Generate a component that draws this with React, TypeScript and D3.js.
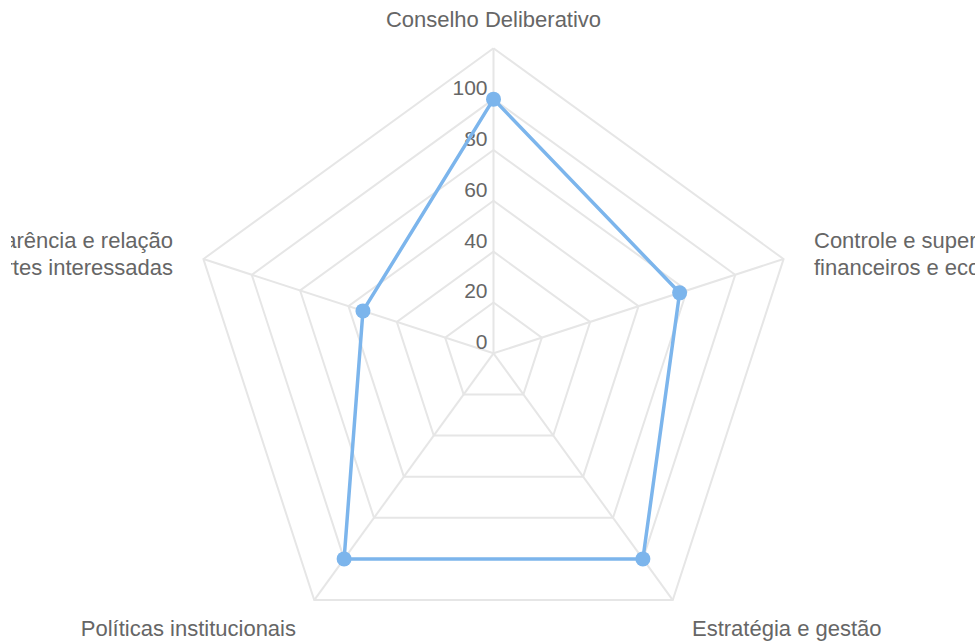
import React, { useEffect, useRef } from 'react';
import * as d3 from 'd3';

const categories = [
  ['Conselho Deliberativo'],
  ['Controle e supervisão dos resultados', 'financeiros e econômicos'],
  ['Estratégia e gestão'],
  ['Políticas institucionais'],
  ['Transparência e relação', 'com partes interessadas'],
];
const values = [100, 77, 100, 100, 54];
const ticks = [0, 20, 40, 60, 80, 100, 120];

const App: React.FC = () => {
  const ref = useRef<SVGSVGElement>(null);

  useEffect(() => {
    if (!ref.current) return;
    const svg = d3.select(ref.current);
    svg.selectAll('*').remove();

    const width = 980;
    const height = 644;
    const cx = 493.5;
    const cy = 353.3;
    const radius = 305;
    const n = categories.length;

    const r = d3.scaleLinear().domain([0, 120]).range([0, radius]);
    const angle = (i: number) => (i * 2 * Math.PI) / n;
    const pt = (i: number, v: number): [number, number] => [
      cx + r(v) * Math.sin(angle(i)),
      cy - r(v) * Math.cos(angle(i)),
    ];

    svg.attr('width', width).attr('height', height);
    const font = '"Liberation Sans", Arial, sans-serif';

    // clip labels like the original container does
    svg.append('defs').append('clipPath').attr('id', 'chart-clip')
      .append('rect').attr('x', 11).attr('y', 0).attr('width', 964).attr('height', height);
    const root = svg.append('g').attr('clip-path', 'url(#chart-clip)');

    // grid rings
    const grid = root.append('g');
    ticks.slice(1).forEach(t => {
      const pts = d3.range(n).map(i => pt(i, t));
      grid.append('path')
        .attr('d', d3.line()(pts.concat([pts[0]])))
        .attr('fill', 'none')
        .attr('stroke', '#e6e6e6')
        .attr('stroke-width', 2);
    });
    // spokes
    d3.range(n).forEach(i => {
      const [x, y] = pt(i, 120);
      grid.append('line')
        .attr('x1', cx).attr('y1', cy)
        .attr('x2', x).attr('y2', y)
        .attr('stroke', '#e6e6e6')
        .attr('stroke-width', 2);
    });

    // tick labels
    ticks.slice(0, -1).forEach(t => {
      root.append('text')
        .attr('x', cx - 6)
        .attr('y', cy - r(t) - 4)
        .attr('text-anchor', 'end')
        .attr('font-family', font)
        .attr('font-size', '21px')
        .attr('fill', '#666666')
        .text(t);
    });

    // category labels
    const labelPos: { x: number; y: number; anchor: string }[] = [
      { x: cx, y: 27, anchor: 'middle' },
      { x: 814, y: 248, anchor: 'start' },
      { x: 692, y: 636, anchor: 'start' },
      { x: 296, y: 636, anchor: 'end' },
      { x: 173, y: 248, anchor: 'end' },
    ];
    categories.forEach((lines, i) => {
      const p = labelPos[i];
      const t = root.append('text')
        .attr('x', p.x)
        .attr('y', p.y)
        .attr('text-anchor', p.anchor)
        .attr('font-family', font)
        .attr('font-size', '22px')
        .attr('fill', '#666666');
      lines.forEach((l, j) => {
        t.append('tspan').attr('x', p.x).attr('dy', j === 0 ? 0 : 27).text(l);
      });
    });

    // series
    const pts = values.map((v, i) => pt(i, v));
    root.append('path')
      .attr('d', d3.line()(pts.concat([pts[0]])))
      .attr('fill', 'none')
      .attr('stroke', '#7cb5ec')
      .attr('stroke-width', 3.5)
      .attr('stroke-linejoin', 'round');
    root.selectAll('circle.pt')
      .data(pts)
      .enter()
      .append('circle')
      .attr('class', 'pt')
      .attr('cx', d => d[0])
      .attr('cy', d => d[1])
      .attr('r', 7.5)
      .attr('fill', '#7cb5ec');
  }, []);

  return (
    <svg ref={ref} style={{ position: 'absolute', left: 0, top: 0, background: '#ffffff' }}></svg>
  );
};

export default App;
